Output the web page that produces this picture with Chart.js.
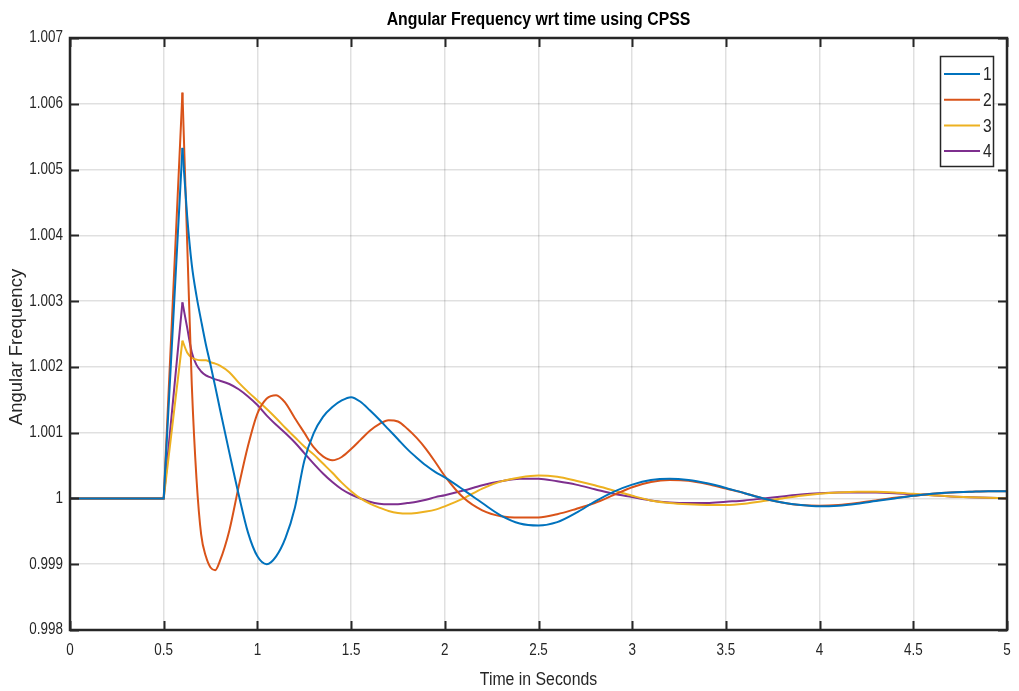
<!DOCTYPE html>
<html>
<head>
<meta charset="utf-8">
<script src="https://cdn.jsdelivr.net/npm/chart.js@4.4.1/dist/chart.umd.min.js"></script>
<style>
  html, body { margin: 0; padding: 0; background: #fff; }
  #wrap { width: 1019px; height: 691px; }
</style>
</head>
<body>
<div id="wrap"><canvas id="freqChart"></canvas></div>
<script>
// time axis (s)
const times = [0, 0.5, 0.6, 0.625, 0.65, 0.675, 0.7, 0.725, 0.75, 0.775, 0.8,
  0.85, 0.9, 0.95, 1.0, 1.05, 1.1, 1.15, 1.2, 1.25, 1.3, 1.35, 1.4, 1.45, 1.5, 1.55, 1.6, 1.65, 1.7, 1.75, 1.8, 1.85, 1.9, 1.95,
  2.0, 2.1, 2.2, 2.3, 2.4, 2.5, 2.6, 2.7, 2.8, 2.9, 3.0, 3.1, 3.2, 3.3, 3.4, 3.5, 3.6, 3.7, 3.8, 3.9,
  4.0, 4.1, 4.2, 4.3, 4.4, 4.5, 4.6, 4.7, 4.8, 4.9, 5.0];

// angular frequency per machine
const gen1 = [1, 1, 1.00533, 1.0043, 1.00355, 1.00308, 1.0027, 1.00234, 1.00203, 1.0017, 1.00136,
  1.0007, 1.00006, 0.99948, 0.99912, 0.999, 0.99912, 0.9994, 0.99986, 1.00057, 1.00099, 1.00124, 1.00139, 1.00149, 1.00154, 1.00147, 1.00134, 1.0012, 1.00105, 1.0009, 1.00075, 1.00062, 1.0005, 1.0004,
  1.00032, 1.00013, 0.99993, 0.99974, 0.99962, 0.99959, 0.99964, 0.99978, 0.99995, 1.0001, 1.00021, 1.00028, 1.0003, 1.00028, 1.00023, 1.00016, 1.00008, 1.0, 0.99994, 0.9999,
  0.99988, 0.99989, 0.99992, 0.99996, 1.0, 1.00004, 1.00007, 1.00009, 1.0001, 1.00011, 1.00011];
const gen2 = [1, 1, 1.00617, 1.00392, 1.00172, 1.0003, 0.99945, 0.99912, 0.99895, 0.99891, 0.99905,
  0.99951, 1.00018, 1.0008, 1.00129, 1.00152, 1.00157, 1.00145, 1.00122, 1.001, 1.00078, 1.00064, 1.00058, 1.00063, 1.00075, 1.00089, 1.00103, 1.00113, 1.00119, 1.00117, 1.00106, 1.00092, 1.00075, 1.00055,
  1.00034, 1.00001, 0.99982, 0.99973, 0.99971, 0.99971, 0.99976, 0.99984, 0.99993, 1.00005, 1.00017, 1.00025, 1.00028, 1.00027, 1.00022, 1.00015, 1.00008, 1.0, 0.99994, 0.9999,
  0.99989, 0.9999, 0.99993, 0.99997, 1.00001, 1.00004, 1.00007, 1.00009, 1.0001, 1.00011, 1.00011];
const gen3 = [1, 1, 1.0024, 1.00222, 1.00214, 1.00211, 1.0021, 1.0021, 1.00207, 1.00205, 1.00202,
  1.00192, 1.00176, 1.00162, 1.00149, 1.00136, 1.00122, 1.00107, 1.00093, 1.00079, 1.00067, 1.00053, 1.00039, 1.00024, 1.00011, 1.0, 0.99992, 0.99986, 0.99981, 0.99978, 0.99977, 0.99978, 0.9998, 0.99983,
  0.99988, 1.0, 1.00015, 1.00026, 1.00032, 1.00035, 1.00033, 1.00027, 1.0002, 1.00012, 1.00004, 0.99997, 0.99993, 0.99991, 0.9999, 0.9999, 0.99992, 0.99996, 1.0, 1.00004,
  1.00007, 1.00009, 1.0001, 1.0001, 1.00009, 1.00007, 1.00005, 1.00003, 1.00002, 1.00001, 1.0];
const gen4 = [1, 1, 1.00298, 1.0026, 1.00222, 1.00203, 1.00193, 1.00187, 1.00184, 1.00181, 1.00179,
  1.00174, 1.00166, 1.00155, 1.00142, 1.00126, 1.00112, 1.00099, 1.00085, 1.00069, 1.00053, 1.00038, 1.00025, 1.00014, 1.00006, 1.0, 0.99995, 0.99992, 0.99991, 0.99991, 0.99993, 0.99995, 0.99998, 1.00002,
  1.00005, 1.00012, 1.0002, 1.00026, 1.0003, 1.0003, 1.00026, 1.00021, 1.00014, 1.00007, 1.00002, 0.99997, 0.99994, 0.99993, 0.99993, 0.99995, 0.99997, 1.0, 1.00003, 1.00006,
  1.00008, 1.00009, 1.00009, 1.00009, 1.00008, 1.00006, 1.00005, 1.00003, 1.00002, 1.00001, 1.0];

const seriesNames = ['1', '2', '3', '4'];
const xTicks = [0, 0.5, 1, 1.5, 2, 2.5, 3, 3.5, 4, 4.5, 5];
const yTicks = [0.998, 0.999, 1, 1.001, 1.002, 1.003, 1.004, 1.005, 1.006, 1.007];

const colors = ['#0072BD', '#D95319', '#EDB120', '#7E2F8E'];
const sans = '"Liberation Sans", Arial, sans-serif';
const axisColor = '#262626';

// the fault spike is a straight ramp, the rest is a smooth response
const peakIdx = times.indexOf(0.6);
const toPoints = (vals, from, to) => vals.slice(from, to).map((v, i) => ({ x: times[from + i], y: v }));

const datasets = [];
[gen1, gen2, gen3, gen4].forEach((vals, i) => {
  datasets.push({
    label: seriesNames[i],
    data: toPoints(vals, 0, peakIdx + 1),
    borderColor: colors[i],
    borderWidth: 2,
    pointRadius: 0,
    tension: 0
  });
  datasets.push({
    label: seriesNames[i] + ' decay',
    data: toPoints(vals, peakIdx, vals.length),
    borderColor: colors[i],
    borderWidth: 2,
    pointRadius: 0,
    cubicInterpolationMode: 'monotone'
  });
});

// narrow text: squeeze a normal sans horizontally
function narrowText(ctx, text, x, y, size, sx, bold, align) {
  ctx.save();
  ctx.font = (bold ? 'bold ' : '') + size + 'px ' + sans;
  ctx.textAlign = align || 'center';
  ctx.textBaseline = 'middle';
  ctx.translate(x, y);
  ctx.scale(sx, 1);
  ctx.fillText(text, 0, 0);
  ctx.restore();
}

// matlab-ish box, inward ticks, legend and labels
const matlabAxes = {
  id: 'matlabAxes',
  afterDatasetsDraw(chart) {
    const ctx = chart.ctx;
    const a = chart.chartArea;
    const xs = chart.scales.x, ys = chart.scales.y;
    ctx.save();
    ctx.strokeStyle = axisColor;
    ctx.lineWidth = 2;
    const tl = 9;
    xTicks.forEach(v => {
      const px = Math.round(xs.getPixelForValue(v)) + 0.5;
      ctx.beginPath();
      ctx.moveTo(px, a.bottom); ctx.lineTo(px, a.bottom - tl);
      ctx.moveTo(px, a.top); ctx.lineTo(px, a.top + tl);
      ctx.stroke();
    });
    yTicks.forEach(v => {
      const py = Math.round(ys.getPixelForValue(v)) + 0.5;
      ctx.beginPath();
      ctx.moveTo(a.left, py); ctx.lineTo(a.left + tl, py);
      ctx.moveTo(a.right, py); ctx.lineTo(a.right - tl, py);
      ctx.stroke();
    });
    ctx.lineWidth = 2.5;
    ctx.strokeRect(a.left, a.top, a.right - a.left, a.bottom - a.top);

    // tick labels
    ctx.fillStyle = axisColor;
    xTicks.forEach(v => narrowText(ctx, String(v), xs.getPixelForValue(v), a.bottom + 21, 16, 0.84));
    yTicks.forEach(v => narrowText(ctx, String(Number(v.toFixed(3))), a.left - 7, ys.getPixelForValue(v), 16, 0.84, false, 'right'));

    // legend box
    const lx = 940, ly = 56, lw = 53, lh = 110;
    ctx.fillStyle = '#fff';
    ctx.fillRect(lx, ly, lw, lh);
    ctx.lineWidth = 1.5;
    ctx.strokeStyle = axisColor;
    ctx.strokeRect(lx + 0.5, ly + 0.5, lw, lh);
    seriesNames.forEach((name, i) => {
      const y = ly + 18 + i * 25.7;
      ctx.strokeStyle = colors[i];
      ctx.lineWidth = 2;
      ctx.beginPath();
      ctx.moveTo(944, y); ctx.lineTo(980, y);
      ctx.stroke();
      ctx.fillStyle = axisColor;
      narrowText(ctx, name, 983, y + 1, 19, 0.82, false, 'left');
    });
    ctx.restore();
  },
  afterDraw(chart) {
    const ctx = chart.ctx;
    const a = chart.chartArea;
    const cx = (a.left + a.right) / 2;
    ctx.save();
    ctx.fillStyle = '#000';
    narrowText(ctx, 'Angular Frequency wrt time using CPSS', cx, 20, 18, 0.88, true);
    ctx.fillStyle = axisColor;
    narrowText(ctx, 'Time in Seconds', cx, 680, 18, 0.88);
    ctx.translate(17, 347);
    ctx.rotate(-Math.PI / 2);
    ctx.font = '18.5px ' + sans;
    ctx.textAlign = 'center';
    ctx.textBaseline = 'middle';
    ctx.fillText('Angular Frequency', 0, 0);
    ctx.restore();
  }
};

const ctxFreq = document.getElementById('freqChart').getContext('2d');
const freqChart = new Chart(ctxFreq, {
  type: 'line',
  data: { datasets: datasets },
  options: {
    responsive: true,
    maintainAspectRatio: false,
    animation: false,
    layout: { padding: { top: 38, right: 12, left: 0, bottom: 0 } },
    plugins: {
      legend: { display: false },
      tooltip: { enabled: false },
      title: { display: false }
    },
    scales: {
      x: {
        type: 'linear',
        min: 0,
        max: 5,
        afterBuildTicks: s => { s.ticks = xTicks.map(v => ({ value: v })); },
        afterFit: s => { s.height = 61; },
        ticks: { display: false },
        grid: { color: 'rgba(0,0,0,0.12)', lineWidth: 1.5, drawTicks: false },
        border: { display: false }
      },
      y: {
        type: 'linear',
        min: 0.998,
        max: 1.007,
        afterBuildTicks: s => { s.ticks = yTicks.map(v => ({ value: v })); },
        afterFit: s => { s.width = 70; },
        ticks: { display: false },
        grid: { color: 'rgba(0,0,0,0.12)', lineWidth: 1.5, drawTicks: false },
        border: { display: false }
      }
    }
  },
  plugins: [matlabAxes]
});
</script>
</body>
</html>
